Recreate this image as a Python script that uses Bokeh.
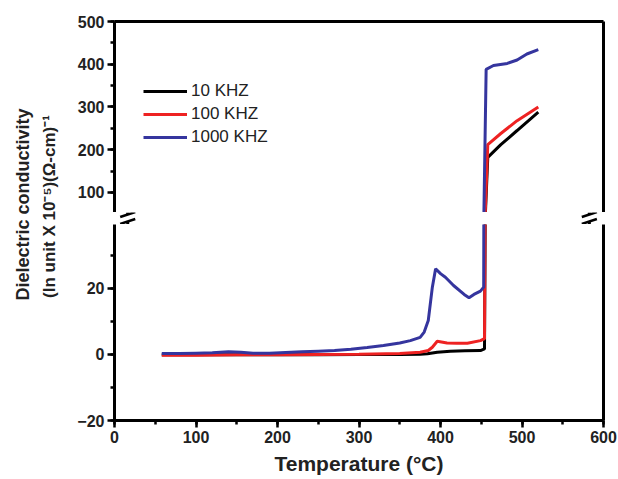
import math
from bokeh.plotting import figure
from bokeh.models import (Range1d, LinearAxis, SingleIntervalTicker, FixedTicker,
                          Legend, LegendItem, Label)
from bokeh.layouts import row, column
from bokeh.embed import file_html
from bokeh.resources import INLINE

# ---------------- data ----------------
temp_10k = [58, 100, 150, 200, 250, 300, 350, 375, 384, 396, 412, 430, 449, 454, 458, 474, 494, 520]
cond_10k = [-0.1, -0.1, -0.1, -0.1, -0.1, 0.0, 0.0, 0.1, 0.2, 0.7, 1.0, 1.1, 1.2, 1.7, 182, 212, 245, 288]

temp_100k = [58, 100, 150, 200, 250, 300, 350, 375, 385, 390, 396, 408, 420, 433, 449, 454, 458, 474, 494, 520]
cond_100k = [-0.2, -0.2, -0.1, -0.1, 0.0, 0.1, 0.3, 0.7, 1.2, 2.2, 4.0, 3.5, 3.4, 3.4, 4.2, 4.8, 212, 238, 268, 300]

temp_1000k = [58, 80, 100, 120, 140, 155, 170, 190, 210, 230, 250, 270, 290, 310, 330, 350, 363, 375,
              380, 385, 390, 394, 400, 406, 416, 429, 435, 441, 449, 453, 456, 465, 482, 494, 506, 520]
cond_1000k = [0.3, 0.3, 0.4, 0.5, 0.8, 0.7, 0.4, 0.4, 0.6, 0.8, 1.0, 1.2, 1.6, 2.1, 2.7, 3.5, 4.2, 5.2,
              6.8, 10.3, 20.4, 26.0, 24.5, 23.4, 20.9, 18.2, 17.2, 18.2, 19.2, 20.4, 388, 397, 402, 410, 424, 434]

series_labels = ["10 KHZ", "100 KHZ", "1000 KHZ"]
series_colors = ["#000000", "#ee2222", "#35359e"]
series_temps = [temp_10k, temp_100k, temp_1000k]
series_conds = [cond_10k, cond_100k, cond_1000k]

x_label = "Temperature (°C)"
y_label_1 = "Dielectric conductivity"
y_label_2 = "(In unit X 10\u207b\u2075)(\u03a9-cm)\u207b\u00b9"

X_RANGE = (0, 600)
LOWER_Y = (-20, 39.39)
UPPER_Y = (53.2, 500)

FONT = "Liberation Sans"

# layout sizes (pixels)
TITLE_W = 72
MAIN_W = 546
BORDER_L = 42
BORDER_R = 15
UP_H = 212
GAP_H = 12
LO_H = 255


def style_axis(ax):
    ax.axis_line_width = 3
    ax.axis_line_color = "black"
    ax.major_tick_line_width = 2.5
    ax.major_tick_out = 7
    ax.major_tick_in = 0
    ax.minor_tick_line_width = 2.5
    ax.minor_tick_out = 4
    ax.minor_tick_in = 0
    ax.major_label_text_font = FONT
    ax.major_label_text_font_style = "bold"
    ax.major_label_text_font_size = "16px"
    ax.major_label_text_color = "#222222"
    ax.major_label_standoff = 3


def bare_axis():
    return LinearAxis(ticker=FixedTicker(ticks=[]), axis_line_width=3,
                      axis_line_color="black", major_label_text_font_size="0px")


xr = Range1d(*X_RANGE)

# ---------------- upper part of the broken axis ----------------
up = figure(width=MAIN_W, height=UP_H, x_range=xr, y_range=Range1d(*UPPER_Y),
            output_backend="svg", toolbar_location=None,
            x_axis_location=None, y_axis_location="left",
            min_border_left=BORDER_L, min_border_right=BORDER_R, min_border_top=21, min_border_bottom=0)
up.outline_line_color = None
up.grid.visible = False
up.yaxis.ticker = SingleIntervalTicker(interval=100, num_minor_ticks=2)
for ax in up.yaxis:
    style_axis(ax)
up.add_layout(bare_axis(), "above")
up.add_layout(bare_axis(), "right")

# ---------------- lower part ----------------
lo = figure(width=MAIN_W, height=LO_H, x_range=xr, y_range=Range1d(*LOWER_Y),
            output_backend="svg", toolbar_location=None,
            min_border_left=BORDER_L, min_border_right=BORDER_R, min_border_top=0, min_border_bottom=59)
lo.outline_line_color = None
lo.grid.visible = False
lo.xaxis.ticker = SingleIntervalTicker(interval=100, num_minor_ticks=2)
lo.yaxis.ticker = SingleIntervalTicker(interval=20, num_minor_ticks=2)
for ax in list(lo.xaxis) + list(lo.yaxis):
    style_axis(ax)
lo.xaxis.axis_label = x_label
lo.xaxis.axis_label_text_font = FONT
lo.xaxis.axis_label_text_font_style = "bold"
lo.xaxis.axis_label_text_font_size = "21px"
lo.xaxis.axis_label_text_color = "#222222"
lo.xaxis.axis_label_standoff = 6
lo.add_layout(bare_axis(), "right")

items = []
for lab, col, t, c in zip(series_labels, series_colors, series_temps, series_conds):
    r_up = up.line(t, c, line_color=col, line_width=3)
    lo.line(t, c, line_color=col, line_width=3)
    items.append(LegendItem(label=lab, renderers=[r_up]))

legend = Legend(items=items, location=(29, 65), padding=0, margin=0, spacing=3,
                glyph_width=44, glyph_height=20, label_height=20, label_standoff=4,
                label_text_font=FONT, label_text_font_size="17px", label_text_color="#222222",
                border_line_color=None, background_fill_alpha=0)
up.add_layout(legend)

# ---------------- gap strip with the axis-break marks ----------------
frame_w = MAIN_W - BORDER_L - BORDER_R
ppu = frame_w / (X_RANGE[1] - X_RANGE[0])
GAP_BORDER_L = 28
gx0 = X_RANGE[0] - (BORDER_L - GAP_BORDER_L) / ppu
gx1 = X_RANGE[1] + BORDER_R / ppu
gap = figure(width=MAIN_W, height=GAP_H, x_range=Range1d(gx0, gx1), y_range=Range1d(0, GAP_H),
             output_backend="svg", toolbar_location=None,
             x_axis_location=None, y_axis_location=None,
             min_border_left=GAP_BORDER_L, min_border_right=0, min_border_top=0, min_border_bottom=0)
gap.outline_line_color = None
gap.grid.visible = False
half = 8 / ppu
for xb in X_RANGE:
    # two slanted strokes
    gap.segment(x0=[xb - half, xb - half], y0=[7.5, 0.5], x1=[xb + half, xb + half], y1=[12.5, 5.5],
                line_color="black", line_width=2.5)
    # short stubs joining the axis lines to the strokes
    gap.segment(x0=[xb, xb], y0=[GAP_H, 0], x1=[xb, xb], y1=[10, 3],
                line_color="black", line_width=3)

# ---------------- y-axis title spanning both parts ----------------
TOTAL_H = UP_H + GAP_H + LO_H
tf = figure(width=TITLE_W, height=TOTAL_H, x_range=Range1d(0, TITLE_W), y_range=Range1d(0, TOTAL_H),
            output_backend="svg", toolbar_location=None,
            x_axis_location=None, y_axis_location=None, min_border=0)
tf.outline_line_color = None
tf.grid.visible = False
tf.add_layout(Label(x=22, y=TOTAL_H - 204, text=y_label_1, angle=math.pi / 2, text_align="center",
                    text_baseline="middle", text_font=FONT, text_font_style="bold",
                    text_font_size="18px", text_color="#222222"))
tf.add_layout(Label(x=49, y=TOTAL_H - 206, text=y_label_2, angle=math.pi / 2, text_align="center",
                    text_baseline="middle", text_font=FONT, text_font_style="bold",
                    text_font_size="17px", text_color="#222222"))

layout = row(tf, column(up, gap, lo))
open("out.html", "w").write(file_html(layout, INLINE))
